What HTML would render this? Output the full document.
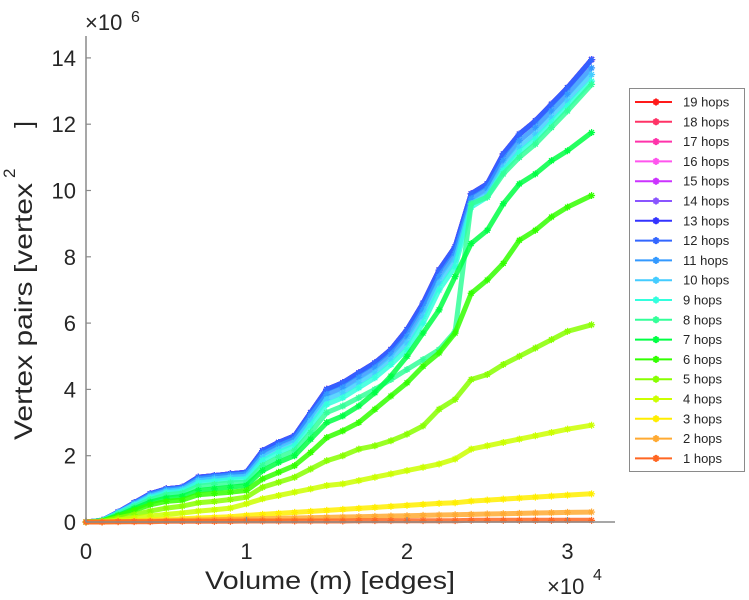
<!DOCTYPE html>
<html><head><meta charset="utf-8"><style>
body{margin:0;background:#fff;}
svg{display:block;font-family:"Liberation Sans",sans-serif;}
</style></head><body>
<svg id="chart" width="749" height="600" viewBox="0 0 749 600">
<g id="plot"></g>
<g id="axes"></g>
<g id="legend"></g>
</svg>
<script>
const xs=[0,0.1,0.2,0.3,0.4,0.5,0.6,0.7,0.8,0.9,1.0,1.1,1.2,1.3,1.4,1.5,1.6,1.7,1.8,1.9,2.0,2.1,2.2,2.3,2.4,2.5,2.6,2.7,2.8,2.9,3.0,3.15];
const satValues=[0,0.05,0.3,0.58,0.85,1.0,1.05,1.35,1.4,1.45,1.5,2.15,2.4,2.6,3.3,4.0,4.2,4.5,4.8,5.2,5.8,6.6,7.6,8.3,9.9,10.2,11.1,11.7,12.1,12.6,13.1,13.95];
const h11=[0,0.05,0.29,0.56,0.82,0.97,1.02,1.3,1.36,1.41,1.45,2.05,2.3,2.5,3.2,3.85,4.05,4.35,4.65,5.05,5.6,6.4,7.4,8.1,9.75,10.05,10.9,11.5,11.9,12.4,12.9,13.7];
const h10=[0,0.05,0.28,0.53,0.78,0.93,0.98,1.25,1.3,1.35,1.38,1.95,2.2,2.4,3.05,3.7,3.9,4.2,4.5,4.9,5.4,6.2,7.2,7.9,9.6,9.9,10.7,11.3,11.7,12.2,12.7,13.5];
const h9=[0,0.04,0.26,0.5,0.74,0.88,0.93,1.18,1.23,1.28,1.3,1.85,2.1,2.3,2.9,3.55,3.75,4.05,4.35,4.75,5.2,6.0,7.0,7.7,9.5,9.8,10.6,11.15,11.55,12.05,12.55,13.3];
const h8=[0,0.04,0.24,0.46,0.68,0.82,0.87,1.08,1.13,1.18,1.2,1.7,1.95,2.15,2.7,3.3,3.5,3.75,4.0,4.3,4.6,4.9,5.2,5.75,9.6,9.8,10.5,11.0,11.4,11.9,12.4,13.2];
const h7=[0,0.03,0.2,0.4,0.6,0.72,0.77,0.95,1.0,1.05,1.1,1.55,1.8,2.0,2.5,3.0,3.2,3.5,3.9,4.4,5.0,5.7,6.4,7.4,8.4,8.8,9.6,10.2,10.5,10.9,11.2,11.75];
const h6=[0,0.03,0.18,0.35,0.52,0.62,0.66,0.82,0.86,0.9,0.95,1.3,1.5,1.7,2.1,2.55,2.75,3.0,3.4,3.8,4.2,4.7,5.1,5.7,6.9,7.3,7.8,8.5,8.8,9.2,9.5,9.85];
const h5=[0,0.02,0.12,0.22,0.33,0.42,0.48,0.58,0.62,0.68,0.75,1.05,1.2,1.35,1.6,1.85,2.0,2.2,2.3,2.45,2.65,2.9,3.4,3.7,4.3,4.45,4.75,5.0,5.25,5.5,5.75,5.95];
const h4=[0,0.01,0.06,0.12,0.18,0.23,0.27,0.33,0.37,0.42,0.55,0.7,0.8,0.9,1.0,1.1,1.15,1.25,1.35,1.45,1.55,1.65,1.75,1.9,2.2,2.3,2.4,2.5,2.6,2.7,2.8,2.92];
const h3=[0,0,0.02,0.04,0.06,0.08,0.1,0.12,0.14,0.16,0.2,0.23,0.26,0.29,0.32,0.35,0.38,0.41,0.44,0.47,0.5,0.53,0.56,0.58,0.63,0.66,0.69,0.72,0.75,0.78,0.81,0.85];
const h2=[0,0,0.01,0.02,0.03,0.04,0.05,0.06,0.07,0.08,0.09,0.1,0.11,0.12,0.13,0.14,0.15,0.16,0.17,0.18,0.19,0.2,0.21,0.22,0.23,0.24,0.25,0.26,0.27,0.28,0.29,0.3];
const h1=[0,0,0.01,0.01,0.01,0.02,0.02,0.02,0.02,0.02,0.03,0.03,0.03,0.03,0.03,0.03,0.03,0.04,0.04,0.04,0.04,0.04,0.04,0.04,0.05,0.05,0.05,0.05,0.05,0.05,0.05,0.05];
const hopLabels=["19 hops","18 hops","17 hops","16 hops","15 hops","14 hops","13 hops","12 hops","11 hops","10 hops","9 hops","8 hops","7 hops","6 hops","5 hops","4 hops","3 hops","2 hops","1 hops"];
const hopColors=["#ff1a1a","#ff3366","#ff33aa","#ff55ee","#cc33ff","#8a55ff","#3333ff","#3366ff","#3399ff","#44ccff","#33ffdd","#33ff99","#00ff44","#33ff00","#88ff00","#ccff00","#ffee00","#ffaa33","#ff6622"];
const hopSeries=[satValues,satValues,satValues,satValues,satValues,satValues,satValues,satValues,h11,h10,h9,h8,h7,h6,h5,h4,h3,h2,h1];
const xTicks=[0,1,2,3];
const yTicks=[0,2,4,6,8,10,12,14];

const NS="http://www.w3.org/2000/svg";
const X0=86,XS=160.5,Y0=522,YS=33.15;
function sx(v){return X0+v*XS;}
function sy(v){return Y0-v*YS;}
function mk(tag,attrs,parent){const e=document.createElementNS(NS,tag);for(const k in attrs)e.setAttribute(k,attrs[k]);parent.appendChild(e);return e;}
const plot=document.getElementById('plot'),axes=document.getElementById('axes'),legend=document.getElementById('legend');

function star(cx,cy,r){return `M${cx-r},${cy}H${cx+r}M${cx},${cy-r}V${cy+r}M${cx-r*0.7},${cy-r*0.7}L${cx+r*0.7},${cy+r*0.7}M${cx-r*0.7},${cy+r*0.7}L${cx+r*0.7},${cy-r*0.7}`;}

for(let i=0;i<hopSeries.length;i++){
  const vals=hopSeries[i];
  const pts=xs.map((x,j)=>sx(x).toFixed(1)+','+sy(vals[j]).toFixed(1)).join(' ');
  const g=mk('g',{},plot);
  
  
  const line=mk('polyline',{points:pts,fill:'none',stroke:hopColors[i],'stroke-width':5,'stroke-linejoin':'round','stroke-opacity':0.85},g);
  
  
  let d='';
  xs.forEach((x,j)=>{d+=star(sx(x),sy(vals[j]),3.5);});
  const m=mk('path',{d:d,stroke:hopColors[i],'stroke-width':1.2,fill:'none'},g);
  
  
}

const yl=mk('line',{x1:X0,y1:36,x2:X0,y2:Y0,stroke:'#8a8a8a','stroke-width':1.5},axes);


const xl=mk('line',{x1:X0,y1:Y0,x2:615,y2:Y0,stroke:'#8a8a8a','stroke-width':1.5},axes);


yTicks.forEach(v=>{
  mk('line',{x1:X0,y1:sy(v),x2:X0+5,y2:sy(v),stroke:'#8a8a8a','stroke-width':1.2},axes);
  const t=mk('text',{x:76,y:sy(v)+8,'text-anchor':'end','font-size':22,fill:'#262626'},axes);
  t.textContent=v;
  
  
});
xTicks.forEach(v=>{
  mk('line',{x1:sx(v),y1:Y0,x2:sx(v),y2:Y0-5,stroke:'#8a8a8a','stroke-width':1.2},axes);
  const t=mk('text',{x:sx(v),y:559,'text-anchor':'middle','font-size':22,fill:'#262626'},axes);
  t.textContent=v;
  
  
});
</script>
<script>
(function(){
const ax=document.getElementById('axes');
const h='http://www.w3.org/2000/svg';
function txt(x,y,s,str,extra){const t=document.createElementNS(h,'text');t.setAttribute('x',x);t.setAttribute('y',y);t.setAttribute('font-size',s);t.setAttribute('fill','#262626');if(extra)for(const k in extra)t.setAttribute(k,extra[k]);t.textContent=str;ax.appendChild(t);return t;}
let a=txt(85,30,22,'×10');


let b=txt(131,22,16,'6');


let c=txt(547,594,22,'×10');


let d=txt(593,580,16,'4');


let e=txt(205,589,25,'Volume (m) [edges]',{textLength:250,lengthAdjust:'spacingAndGlyphs'});


let f=txt(0,0,25,'Vertex pairs [vertex',{textLength:257,lengthAdjust:'spacingAndGlyphs',transform:'translate(32,440) rotate(-90)'});


let f2=txt(0,0,25,']',{transform:'translate(32,128) rotate(-90)'});


let g=txt(0,0,17,'2',{transform:'translate(15,178) rotate(-90)'});



const lg=document.getElementById('legend');
const box=document.createElementNS(h,'rect');
box.setAttribute('x',629.5);box.setAttribute('y',88.5);box.setAttribute('width',115);box.setAttribute('height',383);
box.setAttribute('fill','#fff');box.setAttribute('stroke','#8a8a8a');box.setAttribute('stroke-width',1);


lg.appendChild(box);
hopLabels.forEach((lab,i)=>{
  const y=102+i*19.8;
  const gg=document.createElementNS(h,'g');
  
  
  const l=document.createElementNS(h,'line');
  l.setAttribute('x1',635);l.setAttribute('x2',672);l.setAttribute('y1',y);l.setAttribute('y2',y);
  l.setAttribute('stroke',hopColors[i]);l.setAttribute('stroke-width',2);
  gg.appendChild(l);
  const m=document.createElementNS(h,'path');
  m.setAttribute('d',star(656,y,3.5));m.setAttribute('stroke',hopColors[i]);m.setAttribute('stroke-width',2);
  gg.appendChild(m);
  const t=document.createElementNS(h,'text');
  t.setAttribute('x',683);t.setAttribute('y',y+4.5);t.setAttribute('font-size',13);t.setAttribute('fill','#262626');
  t.textContent=lab;
  gg.appendChild(t);
  lg.appendChild(gg);
});
})();
</script>
</body></html>
